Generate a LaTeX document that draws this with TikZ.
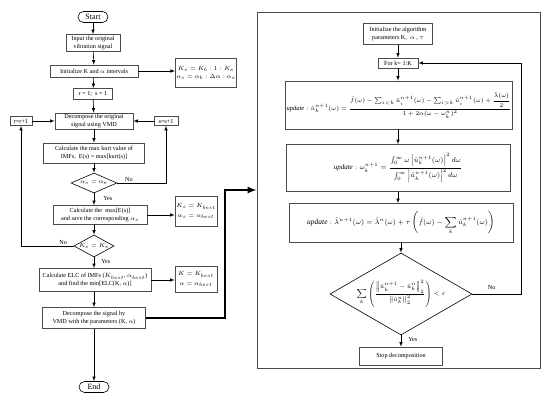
\documentclass[tikz,border=0pt]{standalone}
\usepackage{amsmath}
\usepackage{fontspec}
\setmainfont{Liberation Serif}
\usetikzlibrary{shapes.geometric}

\begin{document}
\begin{tikzpicture}[
    x=1pt, y=-1pt,
    box/.style={draw=black!70, line width=0.6pt, align=center, inner sep=1pt, font=\fontsize{6.2}{7.4}\selectfont},
    eqbox/.style={draw=black!70, line width=0.6pt, align=center, inner sep=1pt, font=\fontsize{7}{8}\selectfont},
    term/.style={draw=black, line width=0.6pt, rounded corners=5.5pt, minimum width=30, minimum height=11, inner sep=1pt, font=\fontsize{8}{9}\selectfont},
    decision/.style={diamond, draw=black, line width=0.6pt, inner sep=0pt, aspect=2, font=\fontsize{6.2}{7.4}\selectfont},
    lbl/.style={font=\fontsize{6.2}{7.4}\selectfont, inner sep=1pt},
    arrow/.style={line width=0.6pt, ->, >=latex},
    bigarrow/.style={line width=2pt, ->, >=latex}
]
\useasboundingbox (0,0) rectangle (550,401);

% Left column
\node[term] (start) at (93,17) {Start};
\node[box, minimum width=54, minimum height=17] (input) at (93,43) {Input the original\\vibration signal};
\node[box, minimum width=88, minimum height=12] (ini) at (94,71) {Initialize K and $\alpha$ intervals};
\node[box, minimum width=59, minimum height=29] (range) at (206,73) {$K_s=K_b:1:K_e$\\[1pt]$\alpha_s=\alpha_b:\Delta\alpha:\alpha_e$};
\node[box, minimum width=39, minimum height=11] (rs) at (93,94) {r = 1;\ \ s = 1};
\node[box, minimum width=78, minimum height=16] (vmd) at (94,121) {Decompose the original\\signal using VMD};
\node[box, minimum width=22, minimum height=9] (rr) at (21,121) {r=r+1};
\node[box, minimum width=24, minimum height=9] (ss) at (166,121) {s=s+1};
\node[box, minimum width=101, minimum height=20] (kurt) at (94,153) {Calculate the max kurt value of\\IMFs,\ \ E(s) = max[kurt(s)]};
\node[decision, minimum width=46, minimum height=20] (da) at (94,183) {$\alpha_s=\alpha_e$};
\node[box, minimum width=94, minimum height=19] (emax) at (100,215) {Calculate the\ \ max[E(s)]\\and save the corresponding $\alpha_s$};
\node[box, minimum width=42, minimum height=30] (best) at (196,211) {$K_s=K_{best}$\\[2pt]$\alpha_s=\alpha_{best}$};
\node[decision, minimum width=40, minimum height=22] (dk) at (94,246) {$K_s=K_e$};
\node[box, minimum width=112, minimum height=23] (elc) at (95,280) {Calculate ELC of IMFs ($K_{best}$, $\alpha_{best}$)\\and find the min[ELC(K, $\alpha$)]};
\node[box, minimum width=42, minimum height=26] (final) at (196,279) {$K=K_{best}$\\[2pt]$\alpha=\alpha_{best}$};
\node[box, minimum width=103, minimum height=21] (dec) at (94,318) {Decompose the signal by\\VMD with the parameters (K, $\alpha$)};
\node[term] (end) at (94,387) {End};

% Right frame
\node[draw=black!70, line width=1pt, minimum width=283, minimum height=356, inner sep=0pt] (frame) at (398.5,191) {};
\node[box, minimum width=69, minimum height=21] (param) at (398,34) {Initialize the algorithm\\parameters K,\ \ $\alpha$ , $\tau$};
\node[box, minimum width=40, minimum height=10] (fork) at (398,63) {For k= 1:K};
\node[eqbox, minimum width=226, minimum height=48, font=\fontsize{6.5}{7.5}\selectfont] (upu) at (399,105)
  {$\mathit{update}:\hat{u}_k^{n+1}(\omega)=\dfrac{\hat{f}(\omega)-\sum_{i<k}\hat{u}_i^{n+1}(\omega)-\sum_{i>k}\hat{u}_i^{n+1}(\omega)+\dfrac{\hat{\lambda}(\omega)}{2}}{1+2\alpha(\omega-\omega_k^n)^2}$};
\node[eqbox, minimum width=224, minimum height=47] (upw) at (398,168)
  {$\mathit{update}:\omega_k^{n+1}=\dfrac{\int_0^\infty\omega\left|\hat{u}_k^{n+1}(\omega)\right|^2d\omega}{\int_0^\infty\left|\hat{u}_k^{n+1}(\omega)\right|^2d\omega}$};
\node[eqbox, minimum width=224, minimum height=39, font=\fontsize{7.5}{8.5}\selectfont] (upl) at (401,223)
  {$\mathit{update}:\hat{\lambda}^{n+1}(\omega)=\hat{\lambda}^{n}(\omega)+\tau\left(\hat{f}(\omega)-\displaystyle\sum_k\hat{u}_k^{n+1}(\omega)\right)$};
\node[decision, aspect=1.73, minimum width=142, minimum height=82, font=\fontsize{6.3}{7.3}\selectfont] (conv) at (401,294)
  {$\displaystyle\sum_k\left(\frac{\left\|\hat{u}_k^{n+1}-\hat{u}_k^{n}\right\|_2^2}{\left\|\hat{u}_k^{n}\right\|_2^2}\right)<\varepsilon$};
\node[box, minimum width=83, minimum height=18] (stop) at (401,356) {Stop decomposition};

% Connectors
\draw[arrow] (start) -- (input);
\draw[arrow] (input) -- (ini);
\draw[arrow] (ini.east) -- (ini.east -| range.west);
\draw[arrow] (ini) -- (rs);
\draw[arrow] (rs) -- (vmd);
\draw[arrow] (rr) -- (vmd);
\draw[arrow] (ss) -- (vmd);
\draw[arrow] (vmd) -- (kurt);
\draw[arrow] (kurt) -- (da);
\draw[arrow] (da.east) -| (ss.south) node[lbl, pos=0.12, above] {No};
\draw[arrow] (da) -- (da.south |- emax.north) node[lbl, pos=0.45, right=8pt] {Yes};
\draw[arrow] (emax.east) -- (emax.east -| best.west);
\draw[arrow] (emax.south -| da.south) -- (dk);
\draw[arrow] (dk.west) -| (rr.south) node[lbl, pos=0.1, above] {No};
\draw[arrow] (dk) -- (elc.north -| dk.south) node[lbl, pos=0.4, right=6pt] {Yes};
\draw[arrow] (elc.east) -- (elc.east -| final.west);
\draw[arrow] (elc.south -| dec.north) -- (dec);
\draw[arrow] (dec) -- (end);
\coordinate (bend) at (225,190);
\draw[bigarrow] (dec.east) -| (bend) -- (bend -| frame.west);

\draw[arrow] (param) -- (fork);
\draw[arrow] (fork) -- (fork.south |- upu.north);
\draw[arrow] (upu.south -| fork.south) -- (upw.north -| fork.south);
\draw[arrow] (upw) -- (upw.south |- upl.north);
\draw[arrow] (upl) -- (conv);
\draw[arrow] (conv) -- (stop) node[lbl, pos=0.4, right=6pt] {Yes};
\coordinate (loop) at (521,63);
\draw[arrow] (conv.east) -| (loop) node[lbl, pos=0.2, above=3pt] {No} -- (fork.east);

\end{tikzpicture}
\end{document}
